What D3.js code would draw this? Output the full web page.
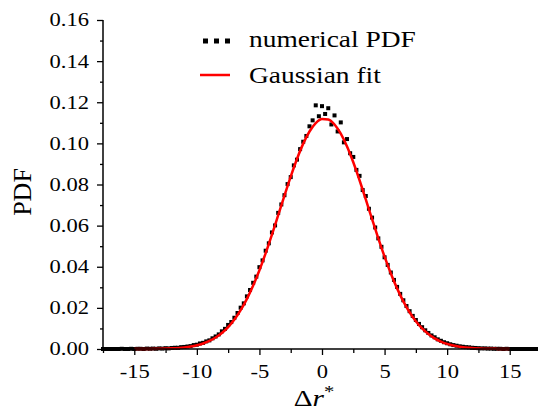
<!DOCTYPE html>
<html>
<head>
<meta charset="utf-8">
<script src="https://cdn.jsdelivr.net/npm/d3@7"></script>
<style>
  body { margin: 0; background: #fff; }
</style>
</head>
<body>
<svg id="chart"></svg>
<script>
/* data */
// numerical PDF, sampled every 0.25 from -17.5 to 17.5
const pdfStart = -17.5;
const pdfStep = 0.25;
const pdfValues = [
  0.0000, 0.0000, 0.0000, 0.0000, 0.0000, 0.0000, 0.0001, 0.0000, 0.0000, 0.0001,
  0.0000, 0.0001, 0.0001, 0.0000, 0.0002, 0.0001, 0.0002, 0.0001, 0.0003, 0.0002,
  0.0004, 0.0003, 0.0005, 0.0006, 0.0006, 0.0009, 0.0010, 0.0012, 0.0014, 0.0019,
  0.0021, 0.0027, 0.0030, 0.0037, 0.0042, 0.0052, 0.0061, 0.0071, 0.0086, 0.0098,
  0.0117, 0.0131, 0.0152, 0.0175, 0.0201, 0.0222, 0.0256, 0.0287, 0.0322, 0.0352,
  0.0398, 0.0431, 0.0478, 0.0514, 0.0567, 0.0601, 0.0662, 0.0703, 0.0748, 0.0802,
  0.0836, 0.0893, 0.0921, 0.0972, 0.1008, 0.1036, 0.1083, 0.1112, 0.1185, 0.1132,
  0.1181, 0.1143, 0.1171, 0.1092, 0.1136, 0.1058, 0.1102, 0.1005, 0.1021, 0.0952,
  0.0934, 0.0871, 0.0842, 0.0773, 0.0744, 0.0682, 0.0639, 0.0591, 0.0538, 0.0497,
  0.0446, 0.0409, 0.0372, 0.0336, 0.0302, 0.0268, 0.0237, 0.0209, 0.0184, 0.0161,
  0.0141, 0.0122, 0.0106, 0.0091, 0.0078, 0.0066, 0.0057, 0.0047, 0.0040, 0.0033,
  0.0028, 0.0023, 0.0019, 0.0016, 0.0013, 0.0011, 0.0009, 0.0008, 0.0006, 0.0005,
  0.0004, 0.0003, 0.0003, 0.0002, 0.0002, 0.0001, 0.0001, 0.0001, 0.0000, 0.0001,
  0.0000, 0.0000, 0.0000, 0.0000, 0.0000, 0.0000, 0.0000, 0.0000, 0.0000, 0.0000,
  0.0000
];

// Gaussian fit curve
const fitX = [
  -15, -14, -13, -12, -11, -10.5, -10, -9.5, -9, -8.5, -8, -7.5, -7, -6.5, -6,
  -5.5, -5, -4.5, -4, -3.5, -3, -2.5, -2, -1.5, -1, -0.5, 0, 0.5, 1, 1.5, 2,
  2.5, 3, 3.5, 4, 4.5, 5, 5.5, 6, 6.5, 7, 7.5, 8, 8.5, 9, 9.5, 10, 10.5, 11,
  12, 13, 14, 15
];
const fitY = [
  0.00001, 0.00004, 0.00011, 0.00031, 0.00077, 0.00119, 0.00181, 0.00268, 0.00390,
  0.00556, 0.00777, 0.01066, 0.01432, 0.01887, 0.02437, 0.03087, 0.03831, 0.04663,
  0.05562, 0.06506, 0.07460, 0.08387, 0.09243, 0.09987, 0.10578, 0.10984, 0.11182,
  0.11160, 0.10919, 0.10473, 0.09849, 0.09080, 0.08206, 0.07271, 0.06316, 0.05378,
  0.04490, 0.03675, 0.02948, 0.02319, 0.01789, 0.01352, 0.01002, 0.00728, 0.00519,
  0.00362, 0.00248, 0.00166, 0.00110, 0.00045, 0.00017, 0.00006, 0.00002
];

const xTicks = [-15, -10, -5, 0, 5, 10, 15];
const yTicks = [0, 0.02, 0.04, 0.06, 0.08, 0.10, 0.12, 0.14, 0.16];
const legendLabels = ["numerical PDF", "Gaussian fit"];

/* layout */
const width = 538, height = 409;
const serif = "'Liberation Serif', 'Times New Roman', Times, serif";
const stretch = 1.22;   // the source image is a bit wider than tall
const plot = { left: 103, right: 541, top: 20, bottom: 349 };

const svg = d3.select("#chart")
  .attr("width", width)
  .attr("height", height);

const x = d3.scaleLinear().domain([-17.5, 17.5]).range([plot.left, plot.right]);
const y = d3.scaleLinear().domain([0, 0.16]).range([plot.bottom, plot.top]);

// numerical PDF points
const pdf = pdfValues.map((v, i) => ({ x: pdfStart + i * pdfStep, y: v }));

svg.append("g")
  .selectAll("rect")
  .data(pdf)
  .enter().append("rect")
  .attr("x", d => x(d.x) - 2)
  .attr("y", d => y(d.y) - 2)
  .attr("width", 4)
  .attr("height", 4)
  .attr("fill", "#000");

// fit line
const fit = fitX.map((v, i) => [v, fitY[i]]);
const line = d3.line()
  .x(d => x(d[0]))
  .y(d => y(d[1]))
  .curve(d3.curveMonotoneX);

svg.append("path")
  .datum(fit)
  .attr("d", line)
  .attr("fill", "none")
  .attr("stroke", "#ff0000")
  .attr("stroke-width", 2.5);

// axes
const xMinor = d3.range(-17.5, 17.6, 2.5).filter(v => xTicks.indexOf(v) < 0);
const yMinor = d3.range(0.01, 0.16, 0.02);

const xAxis = svg.append("g")
  .attr("transform", "translate(0," + plot.bottom + ")");
xAxis.append("g")
  .call(d3.axisBottom(x).tickValues(xMinor).tickSize(4).tickFormat(""))
  .call(g => g.select(".domain").remove());
xAxis.append("g")
  .call(d3.axisBottom(x).tickValues(xTicks).tickSize(6).tickPadding(10)
    .tickFormat(d => String(d)))
  .call(g => g.select(".domain").attr("d", "M" + plot.left + ",0H" + width));

const yAxis = svg.append("g")
  .attr("transform", "translate(" + plot.left + ",0)");
yAxis.append("g")
  .call(d3.axisLeft(y).tickValues(yMinor).tickSize(3).tickFormat(""))
  .call(g => g.select(".domain").remove());
yAxis.append("g")
  .call(d3.axisLeft(y).tickValues(yTicks).tickSize(6).tickFormat(d3.format(".2f")))
  .call(g => g.select(".domain").attr("d", "M0," + plot.top + "V" + plot.bottom));

svg.selectAll(".tick line").attr("stroke", "#000").attr("stroke-width", 1.3);
svg.selectAll(".domain").attr("stroke", "#000").attr("stroke-width", 1.5);
svg.selectAll("g").attr("font-family", null);

xAxis.selectAll("text")
  .attr("fill", "#000")
  .style("font-family", serif)
  .style("font-size", "18.5px")
  .attr("transform", "scale(" + stretch + ",1)");
yAxis.selectAll("text")
  .attr("fill", "#000")
  .style("font-family", serif)
  .style("font-size", "18.5px")
  .attr("x", -14 / stretch)
  .attr("transform", "scale(" + stretch + ",1)");

// axis titles
svg.append("text")
  .attr("transform", "translate(31,192) rotate(-90)")
  .attr("text-anchor", "middle")
  .style("font-family", serif)
  .style("font-size", "26px")
  .text("PDF");

const xt = svg.append("text")
  .attr("transform", "translate(314,406) scale(" + stretch + ",1)")
  .attr("text-anchor", "middle")
  .style("font-family", serif)
  .style("font-size", "24px");
xt.append("tspan").text("\u0394");
xt.append("tspan").style("font-style", "italic").text("r");
xt.append("tspan").attr("dy", -9).style("font-size", "17px").text("*");

// legend
const legend = svg.append("g");
legend.selectAll("rect")
  .data([203, 214, 225])
  .enter().append("rect")
  .attr("x", d => d)
  .attr("y", 38.5)
  .attr("width", 5)
  .attr("height", 5)
  .attr("fill", "#000");
legend.append("line")
  .attr("x1", 200).attr("x2", 230)
  .attr("y1", 75).attr("y2", 75)
  .attr("stroke", "#ff0000")
  .attr("stroke-width", 2.5);
legend.selectAll("text")
  .data(legendLabels)
  .enter().append("text")
  .attr("transform", (d, i) => "translate(249," + (47 + i * 36) + ") scale(" + stretch + ",1)")
  .style("font-family", serif)
  .style("font-size", "22.5px")
  .text(d => d);
</script>
</body>
</html>
